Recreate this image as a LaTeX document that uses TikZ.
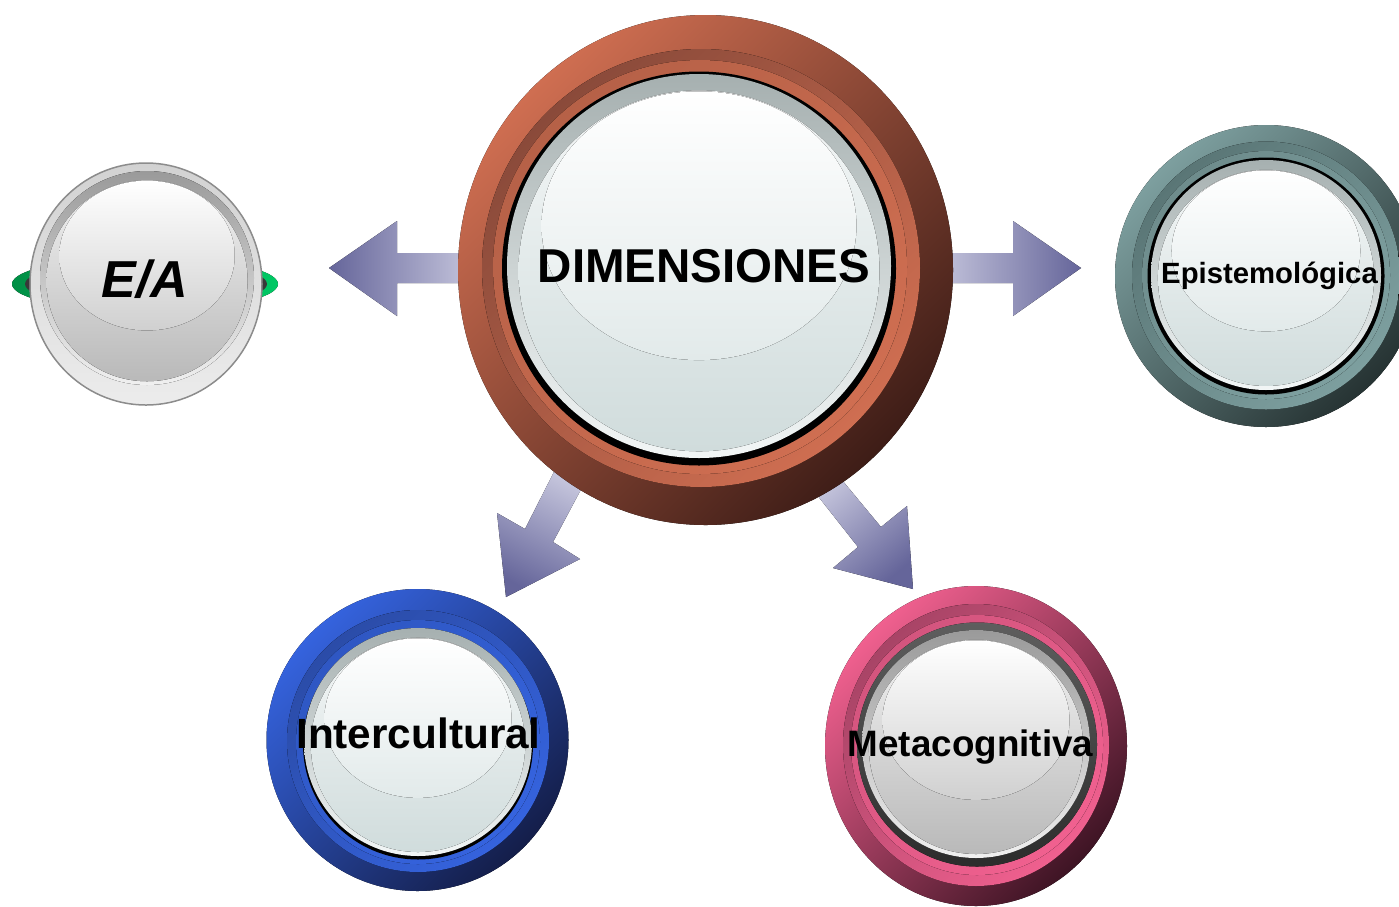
\documentclass[tikz,border=0pt]{standalone}
\usepackage{fontspec}
\setmainfont{Liberation Sans}
\definecolor{dimL}{HTML}{CF6E51}\definecolor{dimD}{HTML}{3E1D17}\definecolor{dimB}{HTML}{8A4A3A}
\definecolor{epiL}{HTML}{7D9F9F}\definecolor{epiD}{HTML}{263333}\definecolor{epiB}{HTML}{5A7676}
\definecolor{intL}{HTML}{3563DE}\definecolor{intD}{HTML}{141E4A}\definecolor{intB}{HTML}{2B4CA8}
\definecolor{metL}{HTML}{F0608F}\definecolor{metD}{HTML}{3E1424}\definecolor{metB}{HTML}{A84466}
\definecolor{arD}{HTML}{65659A}\definecolor{arL}{HTML}{C6C6DD}
% glass blue-grey
\definecolor{gbrt}{HTML}{A6B0B0}\definecolor{gbrb}{HTML}{F2F6F6}
\definecolor{gbit}{HTML}{F4F7F7}\definecolor{gbib}{HTML}{D0DCDC}
\definecolor{gbht}{HTML}{FFFFFF}\definecolor{gbhb}{HTML}{E2EAEA}
% glass grey
\definecolor{ggrt}{HTML}{9A9A9A}\definecolor{ggrb}{HTML}{F0F0F0}
\definecolor{ggit}{HTML}{F2F2F2}\definecolor{ggib}{HTML}{B9B9B9}
\definecolor{gght}{HTML}{FFFFFF}\definecolor{gghb}{HTML}{D0D0D0}
\definecolor{eaG1}{HTML}{008F45}\definecolor{eaG2}{HTML}{00C864}
\definecolor{eaDark}{HTML}{383838}\definecolor{eaRimT}{HTML}{D2D2D2}\definecolor{eaRimB}{HTML}{ECECEC}
\definecolor{eaEdge}{HTML}{8C8C8C}
\definecolor{mgT}{HTML}{5E5E5E}\definecolor{mgB}{HTML}{2C2C2C}
\newcommand\glassdisc[4]{%
  \pgfmathsetmacro\glI{0.94*#3}\pgfmathsetmacro\glY{#2+0.025*#3}%
  \pgfmathsetmacro\glH{#2-0.21*#3}\pgfmathsetmacro\glX{0.82*#3}\pgfmathsetmacro\glR{0.70*#3}%
  \fill[top color=#4rt, bottom color=#4rb] (#1,#2) circle[radius=#3];
  \fill[top color=#4it, bottom color=#4ib] (#1,\glY) circle[radius=\glI];
  \fill[top color=#4ht, bottom color=#4hb] (#1,\glH) ellipse[x radius=\glX, y radius=\glR];
}
\begin{document}
\begin{tikzpicture}[x=1pt,y=-1pt,
  ring/.style={shading=axis, top color=#1L, bottom color=#1D, shading angle=45},
  band/.style={shading=axis, top color=#1B, bottom color=#1L, shading angle=45},
  lite/.style={shading=axis, top color=#1L!88!black, bottom color=#1L, shading angle=45},
  blockarrow/.style={shading=axis},
  label/.style={inner sep=0pt, anchor=base, font=\bfseries}]
\useasboundingbox (0,0) rectangle (1399,906);
\clip (0,0) rectangle (1399,906);
\fill[white] (0,0) rectangle (1399,906);

% ---- block arrows
\fill[blockarrow, left color=arD, right color=arL]
  (329,268) -- (397,221) -- (397,253) -- (475,253) -- (475,283) -- (397,283) -- (397,316) -- cycle;
\fill[blockarrow, left color=arL, right color=arD]
  (935,253) -- (1013,253) -- (1013,221) -- (1081,268) -- (1013,316) -- (1013,283) -- (935,283) -- cycle;
\fill[blockarrow, top color=arL, bottom color=arD, shading angle=-27]
  (557,466) -- (586,480) -- (553,542) -- (580,559) -- (506,597) -- (497,513) -- (525,529) -- cycle;
\fill[blockarrow, top color=arL, bottom color=arD, shading angle=40]
  (810,486) -- (832,468) -- (881,527) -- (907,506) -- (913,589) -- (833,568) -- (858,547) -- cycle;

% ---- E/A
\fill[left color=eaG1, right color=eaG2] (145,284) ellipse[x radius=133, y radius=27];
\fill[eaDark] (146,284) ellipse[x radius=121, y radius=24];
\filldraw[draw=eaEdge, line width=1.5, top color=eaRimT, bottom color=eaRimB] (146,284) ellipse[x radius=116, y radius=121];
\glassdisc{147}{278}{107}{gg}
\node[label, font=\bfseries\itshape\fontsize{52}{58}\selectfont] (ea) at (145,297) {E/A};

% ---- DIMENSIONES
\fill[ring=dim] (705.5,270) ellipse[x radius=247.5, y radius=255];
\fill[band=dim] (701,268) circle[radius=219];
\fill[lite=dim] (700,267) circle[radius=207];
\fill[black] (699,268.5) circle[radius=197];
\glassdisc{699}{266}{192}{gb}
\node[label, font=\bfseries\fontsize{47.5}{52}\selectfont] (dim) at (704,282) {DIMENSIONES};

% ---- Epistemologica
\fill[ring=epi] (1266,276) circle[radius=151];
\fill[band=epi] (1266,275.5) circle[radius=134];
\fill[lite=epi] (1266,275) circle[radius=124];
\fill[black] (1266,276) circle[radius=118.5];
\glassdisc{1266}{275}{115}{gb}
\node[label, font=\bfseries\fontsize{29.3}{33}\selectfont] (epi) at (1269.5,283.5) {Epistemológica};

% ---- Intercultural
\fill[ring=int] (417.5,740) circle[radius=151];
\fill[band=int] (418,741) circle[radius=131];
\fill[lite=int] (418,742) circle[radius=122];
\fill[black] (418,744.5) circle[radius=115];
\glassdisc{418}{742}{114}{gb}
\node[label, font=\bfseries\fontsize{42.3}{47}\selectfont] (int) at (418.5,748) {Intercultural};

% ---- Metacognitiva
\fill[ring=met] (976,746) ellipse[x radius=151, y radius=160];
\fill[band=met] (976,745) ellipse[x radius=133, y radius=141];
\fill[lite=met] (977,745) ellipse[x radius=126, y radius=130];
\fill[top color=mgT, bottom color=mgB] (977,744.5) ellipse[x radius=120, y radius=122];
\glassdisc{976}{744}{114}{gg}
\node[label, font=\bfseries\fontsize{36.8}{41}\selectfont] (met) at (970.5,756.5) {Metacognitiva};
\end{tikzpicture}
\end{document}
